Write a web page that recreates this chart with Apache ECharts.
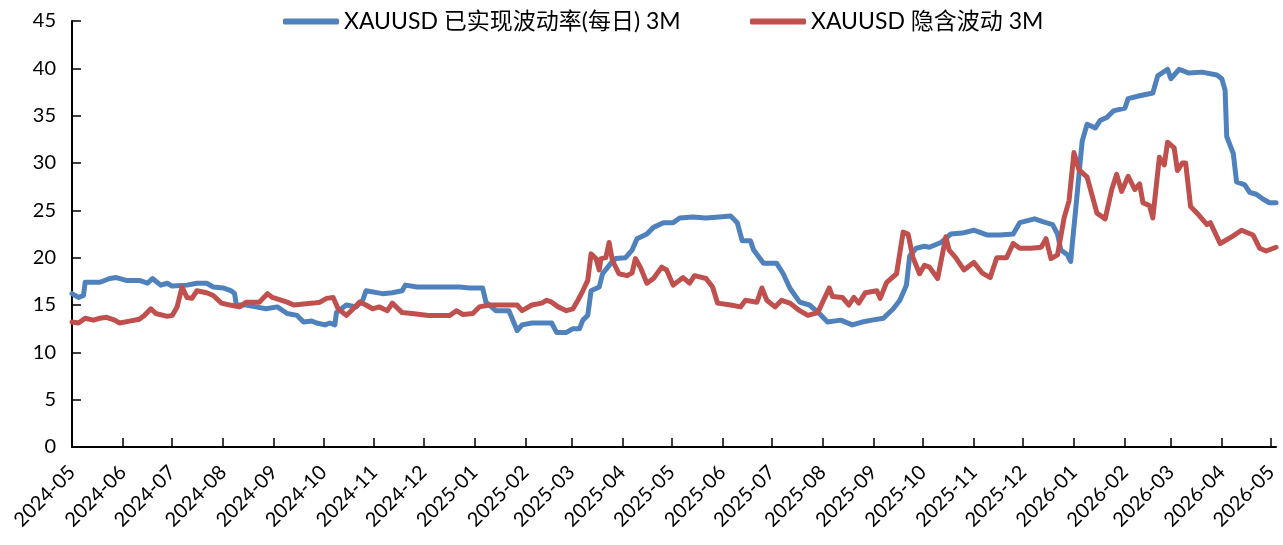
<!DOCTYPE html>
<html>
<head>
<meta charset="utf-8">
<script src="https://cdn.jsdelivr.net/npm/echarts@6/dist/echarts.min.js"></script>
<style>
html,body{margin:0;padding:0;background:#fff;}
#chart{width:1283px;height:545px;}
</style>
</head>
<body>
<div id="chart"></div>
<script>
const seriesNames = ['XAUUSD 已实现波动率(每日) 3M', 'XAUUSD 隐含波动 3M'];
const tickLabels = ['2024-05','2024-06','2024-07','2024-08','2024-09','2024-10','2024-11','2024-12',
  '2025-01','2025-02','2025-03','2025-04','2025-05','2025-06','2025-07','2025-08','2025-09','2025-10',
  '2025-11','2025-12','2026-01','2026-02','2026-03','2026-04','2026-05'];
const axisStart = '2024-05-01';
const axisEnd = '2026-05-04';

const realizedDates = ['2024-05-01','2024-05-05','2024-05-08','2024-05-09','2024-05-18','2024-05-24','2024-05-28',
  '2024-06-03','2024-06-11','2024-06-16','2024-06-19','2024-06-24','2024-06-28','2024-07-01','2024-07-10',
  '2024-07-16','2024-07-22','2024-07-26','2024-08-01','2024-08-06','2024-08-08','2024-08-09','2024-08-15',
  '2024-08-21','2024-08-27','2024-09-03','2024-09-09','2024-09-15','2024-09-19','2024-09-24','2024-09-27',
  '2024-10-02','2024-10-05','2024-10-08','2024-10-09','2024-10-15','2024-10-21','2024-10-25','2024-10-27',
  '2024-11-06','2024-11-12','2024-11-18','2024-11-20','2024-11-27','2024-12-04','2024-12-11','2024-12-23',
  '2024-12-29','2025-01-06','2025-01-08','2025-01-14','2025-01-22','2025-01-27','2025-01-30','2025-02-05',
  '2025-02-14','2025-02-17','2025-02-20','2025-02-26','2025-03-02','2025-03-06','2025-03-08','2025-03-11',
  '2025-03-13','2025-03-18','2025-03-20','2025-03-25','2025-03-28','2025-04-03','2025-04-07','2025-04-10',
  '2025-04-16','2025-04-20','2025-04-26','2025-05-02','2025-05-06','2025-05-14','2025-05-22','2025-05-30',
  '2025-06-06','2025-06-10','2025-06-13','2025-06-18','2025-06-20','2025-06-26','2025-07-04','2025-07-08',
  '2025-07-12','2025-07-18','2025-07-24','2025-07-30','2025-08-04','2025-08-12','2025-08-19','2025-08-25',
  '2025-08-31','2025-09-07','2025-09-13','2025-09-17','2025-09-21','2025-09-23','2025-09-27','2025-10-02',
  '2025-10-05','2025-10-12','2025-10-18','2025-10-25','2025-11-01','2025-11-09','2025-11-17','2025-11-25',
  '2025-11-29','2025-12-08','2025-12-13','2025-12-19','2025-12-22','2025-12-24','2025-12-28','2025-12-30',
  '2025-12-31','2026-01-02','2026-01-05','2026-01-06','2026-01-09','2026-01-14','2026-01-17','2026-01-21',
  '2026-01-25','2026-02-01','2026-02-03','2026-02-10','2026-02-18','2026-02-21','2026-02-27','2026-03-01',
  '2026-03-06','2026-03-12','2026-03-20','2026-03-29','2026-04-01','2026-04-03','2026-04-04','2026-04-08',
  '2026-04-10','2026-04-15','2026-04-18','2026-04-22','2026-04-26','2026-04-30','2026-05-04'];
const realizedValues = [16.2,15.8,16.0,17.4,17.4,17.8,17.9,
  17.6,17.6,17.3,17.8,17.1,17.3,17.0,17.1,
  17.3,17.3,16.9,16.8,16.5,16.2,15.0,15.0,
  14.8,14.6,14.8,14.1,13.9,13.2,13.3,13.1,
  12.9,13.1,12.9,14.2,15.0,14.8,15.5,16.5,
  16.2,16.3,16.5,17.1,16.9,16.9,16.9,16.9,
  16.8,16.8,15.3,14.4,14.4,12.3,12.9,13.1,
  13.1,13.1,12.1,12.1,12.5,12.5,13.4,13.9,
  16.5,16.9,18.3,19.4,19.9,20.0,20.8,22.0,
  22.5,23.2,23.7,23.7,24.2,24.3,24.2,24.3,
  24.4,23.7,21.8,21.8,20.8,19.4,19.4,18.3,
  16.8,15.3,15.0,14.1,13.2,13.4,12.9,13.2,
  13.4,13.6,14.6,15.5,17.1,20.2,21.0,21.2,
  21.1,21.6,22.5,22.6,22.9,22.4,22.4,22.5,
  23.7,24.1,23.8,23.5,22.5,20.8,20.3,19.6,
  21.5,25.0,30.5,32.3,34.1,33.7,34.5,34.8,
  35.5,35.8,36.8,37.1,37.4,39.2,39.9,38.9,
  39.9,39.5,39.6,39.3,38.9,37.7,32.8,31.0,
  28.0,27.7,26.9,26.7,26.2,25.8,25.8];

const impliedDates = ['2024-05-01','2024-05-05','2024-05-09','2024-05-14','2024-05-18','2024-05-22','2024-05-27',
  '2024-05-30','2024-06-05','2024-06-11','2024-06-14','2024-06-18','2024-06-21','2024-06-28','2024-07-01',
  '2024-07-04','2024-07-07','2024-07-10','2024-07-13','2024-07-16','2024-07-22','2024-07-26','2024-07-31',
  '2024-08-05','2024-08-11','2024-08-15','2024-08-23','2024-08-28','2024-08-31','2024-09-09','2024-09-13',
  '2024-09-25','2024-09-29','2024-10-03','2024-10-07','2024-10-10','2024-10-15','2024-10-18','2024-10-23',
  '2024-10-27','2024-10-31','2024-11-04','2024-11-09','2024-11-12','2024-11-18','2024-11-24','2024-12-04',
  '2024-12-09','2024-12-17','2024-12-21','2024-12-25','2024-12-31','2025-01-04','2025-01-10','2025-01-21',
  '2025-01-27','2025-01-30','2025-02-05','2025-02-11','2025-02-14','2025-02-17','2025-02-21','2025-02-26',
  '2025-03-02','2025-03-05','2025-03-08','2025-03-11','2025-03-13','2025-03-16','2025-03-18','2025-03-19',
  '2025-03-22','2025-03-24','2025-03-26','2025-03-30','2025-04-04','2025-04-07','2025-04-09','2025-04-12',
  '2025-04-16','2025-04-20','2025-04-25','2025-04-28','2025-05-02','2025-05-08','2025-05-12','2025-05-15',
  '2025-05-22','2025-05-26','2025-05-29','2025-06-06','2025-06-12','2025-06-15','2025-06-22','2025-06-25',
  '2025-06-28','2025-07-03','2025-07-07','2025-07-12','2025-07-18','2025-07-23','2025-07-29','2025-08-01',
  '2025-08-05','2025-08-07','2025-08-13','2025-08-17','2025-08-20','2025-08-23','2025-08-27','2025-09-03',
  '2025-09-05','2025-09-09','2025-09-15','2025-09-19','2025-09-22','2025-09-25','2025-09-29','2025-10-02',
  '2025-10-05','2025-10-10','2025-10-15','2025-10-17','2025-10-21','2025-10-26','2025-11-01','2025-11-06',
  '2025-11-11','2025-11-15','2025-11-21','2025-11-25','2025-11-29','2025-12-06','2025-12-12','2025-12-15',
  '2025-12-18','2025-12-22','2025-12-26','2025-12-29','2026-01-01','2026-01-04','2026-01-09','2026-01-12',
  '2026-01-15','2026-01-20','2026-01-24','2026-01-27','2026-01-30','2026-02-03','2026-02-07','2026-02-10',
  '2026-02-12','2026-02-16','2026-02-18','2026-02-22','2026-02-25','2026-02-27','2026-03-03','2026-03-05',
  '2026-03-08','2026-03-10','2026-03-13','2026-03-18','2026-03-23','2026-03-25','2026-03-31','2026-04-07',
  '2026-04-13','2026-04-20','2026-04-24','2026-04-28','2026-05-04'];
const impliedValues = [13.2,13.1,13.6,13.4,13.6,13.7,13.4,
  13.1,13.3,13.5,13.9,14.6,14.1,13.8,13.9,
  14.8,16.9,15.8,15.7,16.5,16.3,16.0,15.2,
  15.0,14.8,15.3,15.3,16.2,15.8,15.3,15.0,
  15.2,15.3,15.7,15.8,14.6,13.9,14.4,15.3,
  15.0,14.6,14.8,14.4,15.2,14.2,14.1,13.9,
  13.9,13.9,14.4,14.0,14.1,14.8,15.0,15.0,
  15.0,14.4,15.0,15.2,15.5,15.3,14.8,14.4,
  14.6,15.5,16.5,17.6,20.4,19.9,18.7,19.9,
  20.0,21.6,19.7,18.3,18.1,18.4,19.9,19.0,
  17.3,17.8,19.0,18.7,17.1,17.9,17.3,18.1,
  17.8,16.9,15.2,15.0,14.8,15.5,15.3,16.8,
  15.5,14.8,15.5,15.2,14.4,13.9,14.2,15.3,
  16.8,15.9,15.8,15.0,15.8,15.2,16.3,16.5,
  15.7,17.4,18.3,22.7,22.5,20.0,18.3,19.2,
  19.0,17.8,22.2,20.8,20.0,18.7,19.5,18.4,
  17.9,20.0,20.0,21.5,21.0,21.0,21.1,22.0,
  19.9,20.3,24.2,26.0,31.1,29.3,28.5,26.6,
  24.7,24.1,27.2,28.8,27.0,28.6,27.2,27.8,
  25.8,25.5,24.2,30.6,29.8,32.2,31.6,29.2,
  30.0,30.0,25.4,24.5,23.5,23.7,21.5,22.2,
  22.9,22.4,21.0,20.7,21.1];

function toLocalTime(s) {
  const p = s.split('-').map(Number);
  return new Date(p[0], p[1] - 1, p[2] || 1).getTime();
}
const tickValues = tickLabels.map(toLocalTime);
function pad(n) { return n < 10 ? '0' + n : '' + n; }

const FONT = 'Lato, "Noto Sans CJK SC", sans-serif';
const legendBase = {
  top: 5,
  itemWidth: 56,
  itemHeight: 6,
  icon: 'roundRect',
  textStyle: { fontSize: 23, color: '#000', fontFamily: FONT }
};
const chart = echarts.init(document.getElementById('chart'), null, { renderer: 'canvas' });
chart.setOption({
  animation: false,
  backgroundColor: '#ffffff',
  legend: [
    Object.assign({}, legendBase, { left: 278, data: [seriesNames[0]] }),
    Object.assign({}, legendBase, { left: 745, data: [seriesNames[1]] })
  ],
  grid: { left: 72, right: 7, top: 21, bottom: 98, containLabel: false, outerBoundsMode: 'none' },
  xAxis: {
    type: 'value',
    min: toLocalTime(axisStart),
    max: toLocalTime(axisEnd),
    axisLine: { lineStyle: { color: '#000', width: 2 } },
    axisTick: { show: true, inside: true, length: 9, lineStyle: { color: '#000', width: 1.5 }, customValues: tickValues },
    splitLine: { show: false },
    axisLabel: {
      customValues: tickValues,
      showMinLabel: true,
      showMaxLabel: true,
      hideOverlap: false,
      rotate: 45,
      margin: 22,
      fontSize: 20,
      color: '#000',
      fontFamily: FONT,
      formatter: function (v) {
        const d = new Date(v);
        return d.getFullYear() + '-' + pad(d.getMonth() + 1);
      }
    }
  },
  yAxis: {
    type: 'value',
    min: 0,
    max: 45,
    interval: 5,
    axisLine: { show: true, lineStyle: { color: '#000', width: 2 } },
    axisTick: { show: true, inside: true, length: 9, lineStyle: { color: '#000', width: 1.5 } },
    splitLine: { show: false },
    axisLabel: { fontSize: 20, color: '#000', margin: 16, fontFamily: FONT }
  },
  series: [
    {
      name: seriesNames[0],
      type: 'line',
      showSymbol: false,
      symbol: 'none',
      color: '#4F81BD',
      lineStyle: { width: 5, color: '#4F81BD', cap: 'round', join: 'round' },
      data: realizedDates.map((d, i) => [toLocalTime(d), realizedValues[i]])
    },
    {
      name: seriesNames[1],
      type: 'line',
      showSymbol: false,
      symbol: 'none',
      color: '#C0504D',
      lineStyle: { width: 5, color: '#C0504D', cap: 'round', join: 'round' },
      data: impliedDates.map((d, i) => [toLocalTime(d), impliedValues[i]])
    }
  ]
});
</script>
</body>
</html>
